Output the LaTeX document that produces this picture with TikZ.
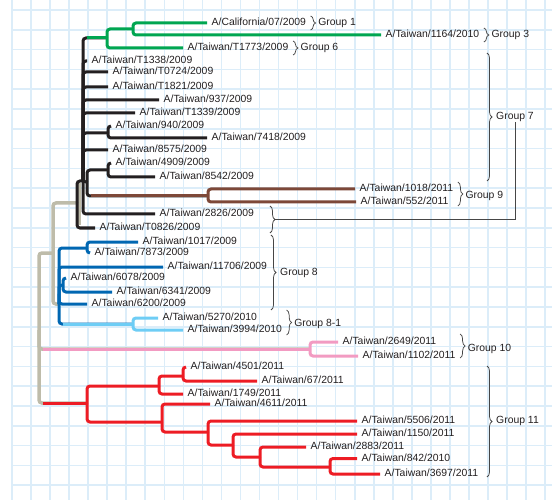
\documentclass[tikz,border=0pt]{standalone}
\usepackage{fontspec}
\setmainfont{Liberation Sans}
\usepackage{tikz}
\usetikzlibrary{calc, decorations.pathreplacing}
\definecolor{gridblue}{RGB}{220, 237, 249}
\definecolor{inkgray}{RGB}{35, 31, 32}
\definecolor{bracegray}{RGB}{70, 70, 70}
\definecolor{cladegreen}{RGB}{0, 166, 81}
\definecolor{cladebrown}{RGB}{125, 72, 56}
\definecolor{cladeblue}{RGB}{0, 103, 178}
\definecolor{cladesky}{RGB}{110, 205, 245}
\definecolor{cladepink}{RGB}{242, 155, 194}
\definecolor{cladered}{RGB}{237, 28, 36}
\definecolor{trunkgray}{RGB}{190, 188, 170}
\newcommand{\leaffont}{\fontsize{10.4}{12}\selectfont}

\begin{document}
\begin{tikzpicture}[x=1pt, y=-1pt,
    gridline/.style={draw=gridblue, line width=1.6pt},
    branch/.style={line width=3pt, rounded corners=3pt},
    blk/.style={branch, draw=inkgray},
    grn/.style={branch, draw=cladegreen},
    brn/.style={branch, draw=cladebrown},
    blu/.style={branch, draw=cladeblue},
    sky/.style={branch, draw=cladesky},
    pnk/.style={branch, draw=cladepink},
    rd/.style={branch, draw=cladered},
    trunk/.style={branch, line width=3.5pt, draw=trunkgray},
    leaf/.style={anchor=west, inner xsep=4.5pt, inner ysep=0pt, text height=7pt, text depth=2pt, font=\leaffont, text=inkgray},
    grp/.style={anchor=west, inner sep=0pt, font=\leaffont, text=inkgray},
    curly/.style={decorate, decoration={brace, amplitude=5pt}, draw=bracegray, line width=0.75pt},
    link/.style={draw=bracegray, line width=0.75pt}
]
    \useasboundingbox (0,0) rectangle (552,500);

    % Grid paper
    \foreach \i in {0,...,28}
        \draw[gridline] ({12+19.04*\i},0) -- ({12+19.04*\i},500);
    \foreach \j in {0,...,24}
        \draw[gridline] (12,{10+19.8*\j}) -- (552,{10+19.8*\j});

    % Internal nodes
    \coordinate (root) at (39,330);
    \coordinate (n53) at (53,253);
    \coordinate (n77) at (77,203);
    \coordinate (nB) at (83,181);
    \coordinate (gA) at (107,38);
    \coordinate (gB) at (133,29);
    \coordinate (n940) at (108,133);
    \coordinate (n87) at (87,182);
    \coordinate (n4909) at (108,170);
    \coordinate (nBr) at (208,196);
    \coordinate (nBl) at (59,304);
    \coordinate (n1017) at (87,248);
    \coordinate (n6078) at (63,285);
    \coordinate (nLB) at (133,324);
    \coordinate (nP) at (310,349);
    \coordinate (nR1) at (87,403);
    \coordinate (nR2) at (159,386);
    \coordinate (nR3) at (183,376);
    \coordinate (nR4) at (162,422);
    \coordinate (nR5) at (208,432);
    \coordinate (nR6) at (233,445);
    \coordinate (nR7) at (260,457);
    \coordinate (nR8) at (330,467);

    % Strains
    \node[leaf] (lCal) at (207,23) {A/California/07/2009};
    \node[leaf] (l1164) at (381,35) {A/Taiwan/1164/2010};
    \node[leaf] (lT1773) at (183,48) {A/Taiwan/T1773/2009};
    \node[leaf] (lT1338) at (87,61) {A/Taiwan/T1338/2009};
    \node[leaf] (lT0724) at (108,72) {A/Taiwan/T0724/2009};
    \node[leaf] (lT1821) at (108,87) {A/Taiwan/T1821/2009};
    \node[leaf] (l937) at (159,100) {A/Taiwan/937/2009};
    \node[leaf] (lT1339) at (135,113) {A/Taiwan/T1339/2009};
    \node[leaf] (l940) at (111,126) {A/Taiwan/940/2009};
    \node[leaf] (l7418) at (207,138) {A/Taiwan/7418/2009};
    \node[leaf] (l8575) at (108,150) {A/Taiwan/8575/2009};
    \node[leaf] (l4909) at (111,163) {A/Taiwan/4909/2009};
    \node[leaf] (l8542) at (155,177) {A/Taiwan/8542/2009};
    \node[leaf] (l1018) at (355,189) {A/Taiwan/1018/2011};
    \node[leaf] (l552) at (356,202) {A/Taiwan/552/2011};
    \node[leaf] (l2826) at (155,214) {A/Taiwan/2826/2009};
    \node[leaf] (lT0826) at (95,228) {A/Taiwan/T0826/2009};
    \node[leaf] (l1017) at (138,242) {A/Taiwan/1017/2009};
    \node[leaf] (l7873) at (90,253) {A/Taiwan/7873/2009};
    \node[leaf] (l11706) at (163,267) {A/Taiwan/11706/2009};
    \node[leaf] (l6078) at (66,278) {A/Taiwan/6078/2009};
    \node[leaf] (l6341) at (112,292) {A/Taiwan/6341/2009};
    \node[leaf] (l6200) at (87,304) {A/Taiwan/6200/2009};
    \node[leaf] (l5270) at (158,318) {A/Taiwan/5270/2010};
    \node[leaf] (l3994) at (183,330) {A/Taiwan/3994/2010};
    \node[leaf] (l2649) at (338,342) {A/Taiwan/2649/2011};
    \node[leaf] (l1102) at (358,356) {A/Taiwan/1102/2011};
    \node[leaf] (l4501) at (186,367) {A/Taiwan/4501/2011};
    \node[leaf] (l67) at (257,381) {A/Taiwan/67/2011};
    \node[leaf] (l1749) at (183,394) {A/Taiwan/1749/2011};
    \node[leaf] (l4611) at (210,404) {A/Taiwan/4611/2011};
    \node[leaf] (l5506) at (357,421) {A/Taiwan/5506/2011};
    \node[leaf] (l1150) at (357,434) {A/Taiwan/1150/2011};
    \node[leaf] (l2883) at (306,447) {A/Taiwan/2883/2011};
    \node[leaf] (l842) at (357,458.5) {A/Taiwan/842/2010};
    \node[leaf] (l3697) at (380,474) {A/Taiwan/3697/2011};

    % Trunk
    \draw[trunk] ($(n77)+(2.5,-20)$) -- ($(n77)+(2.5,22)$);
    \draw[trunk] (root) |- (n53);
    \draw[trunk] (root) |- (nP);
    \draw[trunk] (root) |- (nR1);
    \draw[trunk] (n53) |- (n77);
    \draw[trunk] (n53) |- (nBl);

    % Black clade
    \draw[blk] (n77) |- (nB);
    \draw[blk] (n77) |- (lT0826.west);
    \draw[blk] (nB) |- (gA);
    \foreach \c in {lT1338, lT0724, lT1821, l937, lT1339, l8575, l2826}
        \draw[blk] (nB) |- (\c.west);
    \draw[blk] (nB) |- (n940);
    \draw[blk] (nB) |- (n87);
    \draw[blk] (n940) |- (l940.west);
    \draw[blk] (n940) |- (l7418.west);
    \draw[blk] (n87) |- (n4909);
    \draw[blk] (n87) |- (nBr);
    \draw[blk] (n4909) |- (l4909.west);
    \draw[blk] (n4909) |- (l8542.west);

    % Green clade
    \draw[grn] ($(nB |- gA)+(3.5,0)$) -- (gA);
    \draw[grn] (gA) |- (gB);
    \draw[grn] (gA) |- (lT1773.west);
    \draw[grn] (gB) |- (lCal.west);
    \draw[grn] (gB) |- (l1164.west);

    % Brown clade
    \draw[brn] ($(n87 |- nBr)+(3.5,0)$) -- (nBr);
    \draw[brn] (nBr) |- (l1018.west);
    \draw[brn] (nBr) |- (l552.west);

    % Blue clades
    \draw[blu] (nBl) |- (n1017);
    \draw[blu] (nBl) |- (l11706.west);
    \draw[blu] (nBl) |- (n6078);
    \draw[blu] (nBl) |- (l6200.west);
    \draw[blu] (nBl) |- (nLB);
    \draw[blu] (n1017) |- (l1017.west);
    \draw[blu] (n1017) |- (l7873.west);
    \draw[blu] (n6078) |- (l6078.west);
    \draw[blu] (n6078) |- (l6341.west);
    \draw[sky] ($(nBl |- nLB)+(3.5,0)$) -- (nLB);
    \draw[sky] (nLB) |- (l5270.west);
    \draw[sky] (nLB) |- (l3994.west);

    % Pink clade
    \draw[pnk] ($(root |- nP)+(3.5,0)$) -- (nP);
    \draw[pnk] (nP) |- (l2649.west);
    \draw[pnk] (nP) |- (l1102.west);

    % Red clade
    \draw[rd] ($(root |- nR1)+(3.5,0)$) -- (nR1);
    \draw[rd] (nR1) |- (nR2);
    \draw[rd] (nR1) |- (nR4);
    \draw[rd] (nR2) |- (nR3);
    \draw[rd] (nR2) |- (l1749.west);
    \draw[rd] (nR3) |- (l4501.west);
    \draw[rd] (nR3) |- (l67.west);
    \draw[rd] (nR4) |- (l4611.west);
    \draw[rd] (nR4) |- (nR5);
    \draw[rd] (nR5) |- (l5506.west);
    \draw[rd] (nR5) |- (nR6);
    \draw[rd] (nR6) |- (l1150.west);
    \draw[rd] (nR6) |- (nR7);
    \draw[rd] (nR7) |- (l2883.west);
    \draw[rd] (nR7) |- (nR8);
    \draw[rd] (nR8) |- (l842.west);
    \draw[rd] (nR8) |- (l3697.west);

    % Groups
    \draw[curly] ([yshift=7pt]lCal.east) -- ([yshift=-7pt]lCal.east);
    \node[grp] (g1) at ([xshift=7.5pt]lCal.east) {Group 1};
    \draw[curly] ([yshift=7pt]l1164.east) -- ([yshift=-7pt]l1164.east);
    \node[grp] (g3) at ([xshift=7.5pt]l1164.east) {Group 3};
    \draw[curly] ([yshift=7pt]lT1773.east) -- ([yshift=-7pt]lT1773.east);
    \node[grp] (g6) at ([xshift=7.5pt]lT1773.east) {Group 6};

    \draw[curly] (487,53) -- (487,181);
    \node[grp] (g7) at (496,117) {Group 7};
    \draw[curly] (270,206) -- (270,233);
    \coordinate (t7) at (275,219.5);
    \draw[link] (t7) -| (g7.south);

    \draw[curly] ($(l1018.east)+(0,-7)$) -- ($(l1018.east |- l552.east)+(0,4)$);
    \node[grp] (g9) at ($(l1018.east)!.5!(l1018.east |- l552.east)+(7.5,0)$) {Group 9};

    \draw[curly] (271,235) -- (271,310);
    \node[grp] (g8) at (280,273) {Group 8};
    \draw[curly] ($(l3994.east |- l5270.east)+(0,-8)$) -- ($(l3994.east)+(0,5)$);
    \node[grp] (g81) at ($(l3994.east |- l5270.east)!.5!(l3994.east)+(7.5,0)$) {Group 8-1};

    \draw[curly] ($(l1102.east |- l2649.east)+(0,-8)$) -- ($(l1102.east)+(0,2)$);
    \node[grp] (g10) at ($(l1102.east |- l2649.east)!.5!(l1102.east)+(7.5,0)$) {Group 10};

    \draw[curly] (487,366) -- (487,477);
    \node[grp] (g11) at (496,421) {Group 11};
\end{tikzpicture}
\end{document}
